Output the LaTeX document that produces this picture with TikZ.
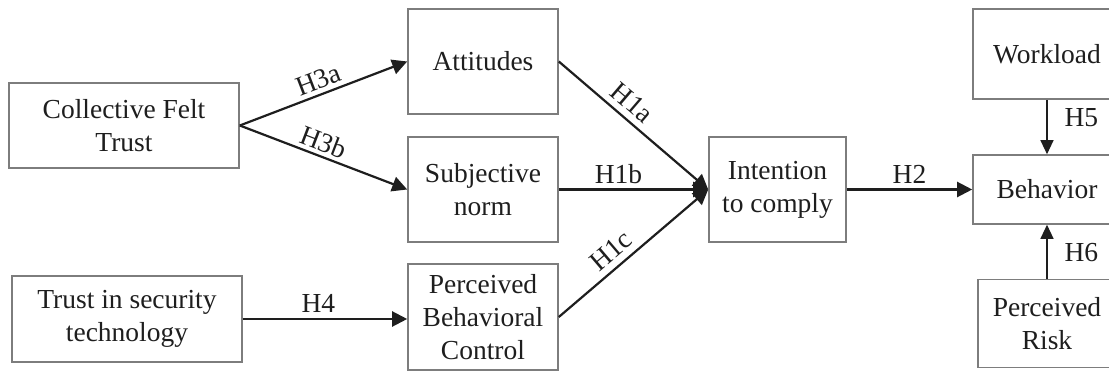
\documentclass[tikz,border=0pt]{standalone}
\usepackage{fontspec}
\setmainfont{Liberation Serif}
\usetikzlibrary{arrows.meta}
\definecolor{boxgray}{RGB}{125,125,125}
\definecolor{ink}{RGB}{30,30,30}
\tikzset{
  box/.style={draw=boxgray, line width=1.6pt, inner sep=0pt, align=center,
    text=ink, font=\fontsize{27.5}{33}\selectfont},
  conn/.style={line width=2.2pt, draw=ink, -{Triangle[length=15pt,width=15pt]}},
  vconn/.style={line width=1.2pt, draw=ink, -{Triangle[length=14pt,width=13pt]}},
  lab/.style={text=ink, font=\fontsize{27.5}{33}\selectfont, inner sep=0pt}
}
\begin{document}
\begin{tikzpicture}[x=1pt,y=-1pt]
\useasboundingbox (0,0) rectangle (1109,371);
\clip (0,0) rectangle (1109,371);
\node[box, minimum width=230pt, minimum height=85pt] (cft) at (124,125.5) {Collective Felt\\Trust};
\node[box, minimum width=150pt, minimum height=105pt] (att) at (483,61.5) {Attitudes};
\node[box, minimum width=150pt, minimum height=105pt] (sub) at (483,189.5) {Subjective\\norm};
\node[box, minimum width=230pt, minimum height=86pt] (tst) at (127,319) {Trust in security\\technology};
\node[box, minimum width=150pt, minimum height=106pt] (pbc) at (483,317) {Perceived\\Behavioral\\Control};
\node[box, minimum width=137pt, minimum height=105pt] (int) at (777.5,189.5) {Intention\\to comply};
\node[box, minimum width=148pt, minimum height=90pt] (wl) at (1047,54) {Workload};
\node[box, minimum width=148pt, minimum height=69pt] (beh) at (1047,189.5) {Behavior};
\node[box, minimum width=138pt, minimum height=88pt] (pr) at (1047,323.5) {Perceived\\Risk};

\draw[conn] (cft.east) -- node[lab, pos=0.5, sloped, above=4pt] {H3a} (att.west);
\draw[conn] (cft.east) -- node[lab, pos=0.47, sloped, above=4pt] {H3b} (sub.west);
\draw[conn] (att.east) -- node[lab, pos=0.42, sloped, above=6pt] {H1a} (int.west);
\draw[conn] (sub.east) -- node[lab, pos=0.4, above=5pt] {H1b} (int.west);
\draw[conn] (pbc.east) -- node[lab, pos=0.42, sloped, above=6pt] {H1c} (int.west);
\draw[conn] (tst.east) -- node[lab, pos=0.46, above=5pt] {H4} (tst.east -| pbc.west);
\draw[conn] (int.east) -- node[lab, midway, above=5pt] {H2} (beh.west);
\draw[vconn] (wl.south) -- node[lab, pos=0.33, anchor=west, xshift=17pt] {H5} (beh.north);
\draw[vconn] (pr.north) -- node[lab, pos=0.48, anchor=west, xshift=17pt] {H6} (beh.south);
\end{tikzpicture}
\end{document}
